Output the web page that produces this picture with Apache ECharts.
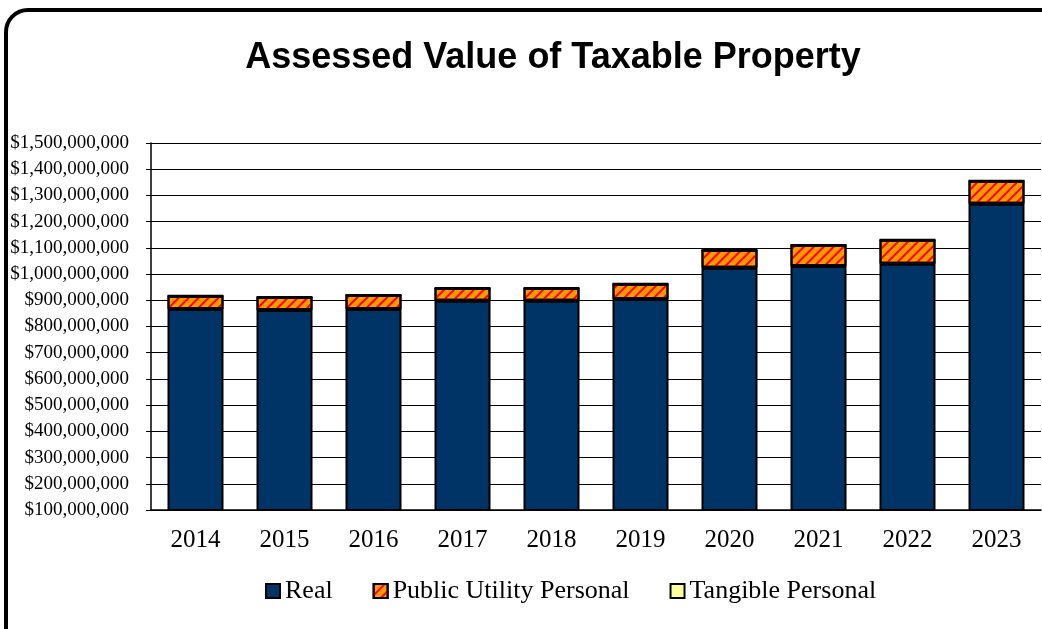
<!DOCTYPE html>
<html>
<head>
<meta charset="utf-8">
<script src="https://cdn.jsdelivr.net/npm/echarts@6/dist/echarts.min.js"></script>
<style>
  html, body { margin: 0; padding: 0; background: #fff; }
  #chart { width: 1042px; height: 629px; }
</style>
</head>
<body>
<div id="chart"></div>
<script>
// years on the x axis
var years = ['2014', '2015', '2016', '2017', '2018', '2019', '2020', '2021', '2022', '2023'];
// values, in dollars
var real = [867e6, 863e6, 867e6, 898e6, 898e6, 905e6, 1024e6, 1031e6, 1039e6, 1268e6];
var publicUtility = [50e6, 50e6, 53e6, 49e6, 49e6, 58e6, 68e6, 80e6, 92e6, 88e6];
var tangible = [0, 0, 0, 0, 0, 0, 0, 0, 0, 0];

var chart = echarts.init(document.getElementById('chart'));

function money(v) {
    return '$' + v.toLocaleString('en-US');
}

var serif = 'Liberation Serif, Times New Roman, serif';

var option = {
    backgroundColor: '#fff',
    animation: false,
    graphic: [{
        type: 'rect',
        shape: { x: 6, y: 10, width: 1060, height: 640, r: 22 },
        style: { fill: 'none', stroke: '#000', lineWidth: 4 },
        silent: true
    }],
    title: {
        text: 'Assessed Value of Taxable Property',
        left: 548,
        textAlign: 'center',
        top: 35,
        textStyle: {
            fontFamily: 'Liberation Sans, Arial, sans-serif',
            fontSize: 36,
            fontWeight: 'bold',
            color: '#000'
        }
    },
    legend: {
        bottom: 20,
        left: 260,
        itemWidth: 14,
        itemHeight: 14,
        itemGap: 40,
        icon: 'rect',
        textStyle: {
            fontFamily: serif,
            fontSize: 26,
            color: '#000'
        },
        data: ['Real', 'Public Utility Personal', 'Tangible Personal']
    },
    grid: {
        left: 151,
        right: 1,
        top: 143,
        bottom: 119,
        containLabel: false
    },
    xAxis: {
        type: 'category',
        data: years,
        axisLine: { lineStyle: { color: '#000', width: 1.5 } },
        axisTick: { show: false },
        axisLabel: {
            margin: 18,
            color: '#000',
            fontFamily: serif,
            fontSize: 25
        }
    },
    yAxis: {
        type: 'value',
        min: 100000000,
        max: 1500000000,
        interval: 100000000,
        axisLine: { show: true, lineStyle: { color: '#000', width: 1.5 } },
        axisTick: { show: true, length: 5, lineStyle: { color: '#000' } },
        splitLine: { lineStyle: { color: '#000', width: 1 } },
        axisLabel: {
            margin: 22,
            color: '#000',
            fontFamily: serif,
            fontSize: 19,
            formatter: money
        }
    },
    series: [
        {
            name: 'Real',
            type: 'bar',
            stack: 'total',
            barWidth: 56,
            data: real,
            itemStyle: { color: '#003366', borderColor: '#000', borderWidth: 2 }
        },
        {
            name: 'Public Utility Personal',
            type: 'bar',
            stack: 'total',
            barWidth: 56,
            data: publicUtility,
            itemStyle: {
                color: '#FF9900',
                borderColor: '#000',
                borderWidth: 2,
                decal: {
                    symbol: 'rect',
                    color: '#FF0000',
                    symbolSize: 1,
                    dashArrayX: [1, 0],
                    dashArrayY: [2, 5],
                    rotation: -Math.PI / 4
                }
            }
        },
        {
            name: 'Tangible Personal',
            type: 'bar',
            stack: 'total',
            barWidth: 56,
            data: tangible,
            itemStyle: { color: '#FFFF99', borderColor: '#000', borderWidth: 2 }
        }
    ]
};

chart.setOption(option);
</script>
</body>
</html>
